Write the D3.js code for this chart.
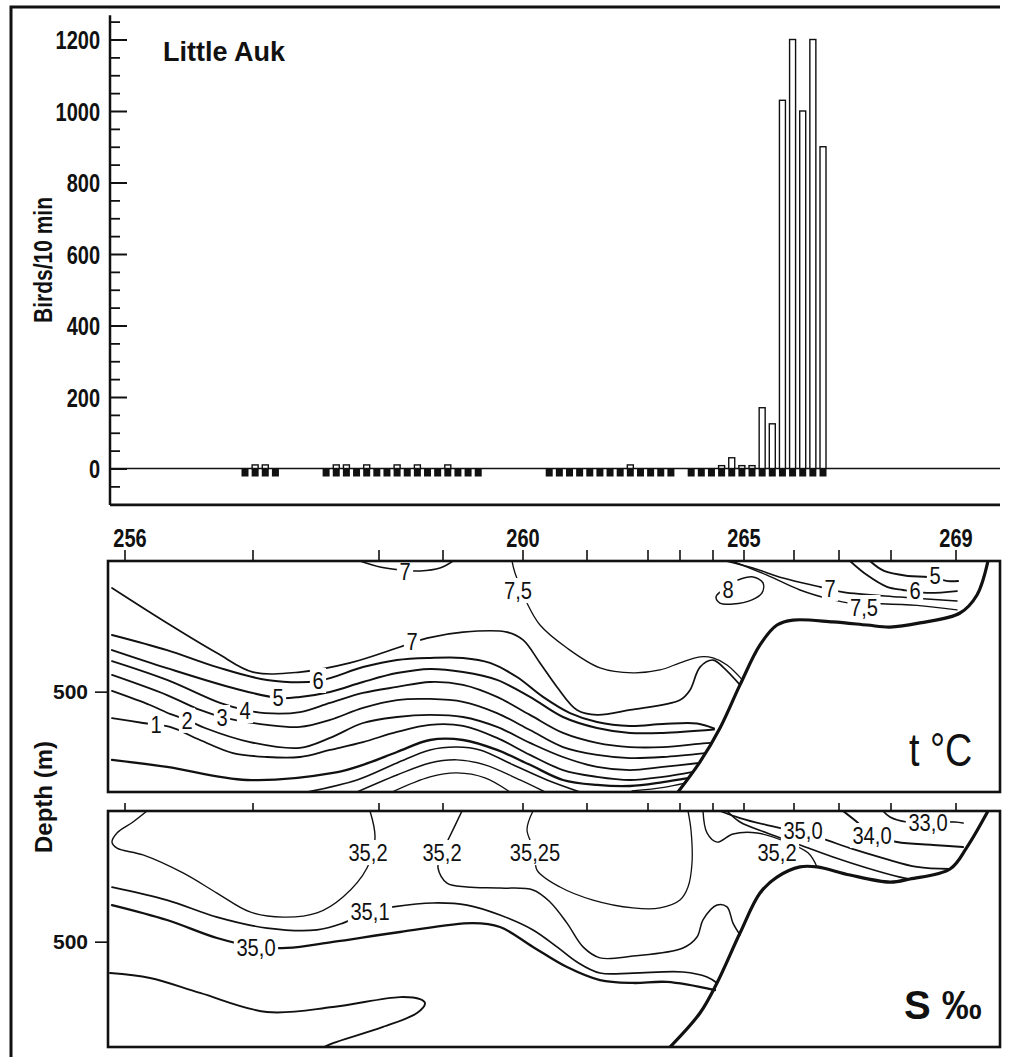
<!DOCTYPE html>
<html>
<head>
<meta charset="utf-8">
<script src="https://cdnjs.cloudflare.com/ajax/libs/d3/7.8.5/d3.min.js"></script>
<style>
  body { margin: 0; background: #fff; }
  .bold { font-family: "Liberation Sans", Arial, sans-serif; font-weight: bold; }
  .clab { font-family: "Liberation Sans", Arial, sans-serif; font-size: 24px; fill: #111; }
</style>
</head>
<body>
<svg id="fig" width="1013" height="1057"></svg>
<script>
// ---- bird counts (one slot = one 10-min count, gaps = no counting) ----
var countSlots = [0, 1, 2, 3,
                  8, 9, 10, 11, 12, 13, 14, 15, 16, 17, 18, 19, 20, 21, 22, 23,
                  30, 31, 32, 33, 34, 35, 36, 37, 38, 39, 40, 41, 42,
                  44, 45, 46, 47, 48, 49, 50, 51, 52, 53, 54, 55, 56, 57];
var birds = [0, 10, 10, 0,
             0, 10, 10, 0, 10, 0, 0, 10, 0, 10, 0, 0, 10, 0, 0, 0,
             0, 0, 0, 0, 0, 0, 0, 0, 10, 0, 0, 0, 0,
             0, 0, 0, 8, 30, 8, 8, 170, 125, 1030, 1200, 1000, 1200, 900];
var birdTicks = [0, 200, 400, 600, 800, 1000, 1200];

// ---- stations along the section (km) ----
var stations = [256, 257, 258, 259, 260, 261, 262, 263, 264, 265, 266, 267, 268, 269];
var stationKm = [8.5, 72.5, 135.5, 167.5, 207.5, 239.5, 270, 286, 302.5, 318, 343, 365.5, 391.5, 424];
var labelledStations = [256, 260, 265, 269];

// ---- temperature section: isotherms as [km, depth m] ----
var t7surf = [[126, 0], [136, 23], [146, 34], [156, 38], [166, 27], [172.5, 0]];
var t75 = [[202, 0], [203.5, 46], [209.5, 161], [216, 245], [229.5, 333], [246, 409], [262.5, 428], [276, 417],
           [286, 390], [296, 367], [302.5, 371], [309.5, 398], [317.2, 455]];
var t7 = [[2, 103], [29.5, 237], [54.5, 352], [72.5, 425], [96, 425], [121, 390], [146, 329], [159.5, 295], [177.5, 272],
          [199.5, 272], [207.5, 302], [216, 390], [224.5, 482], [234.5, 570], [244.5, 589], [261, 570], [286, 532],
          [291, 494], [296, 406], [302.5, 379], [307.5, 406], [316, 474]];
var t6 = [[2, 283], [29.5, 341], [54.5, 406], [79.5, 455], [105, 459], [127.5, 406], [144.5, 379], [161, 371], [177.5, 371],
          [191, 390], [204.5, 444], [217.5, 520], [231, 582], [244.5, 616], [261, 631], [277.5, 624], [294.5, 622], [303, 641]];
var t5 = [[2, 341], [29.5, 410], [62.5, 486], [85, 524], [96, 520], [111, 501], [127.5, 463], [144.5, 429], [161, 413],
          [177.5, 425], [194.5, 455], [211, 520], [227.5, 597], [244.5, 639], [261, 658], [277.5, 658], [303, 645]];
var t4 = [[2, 383], [29.5, 455], [56, 543], [68.5, 570], [78.5, 582], [96, 578], [111, 543], [127.5, 505], [144.5, 482],
          [161, 463], [177.5, 474], [194.5, 520], [211, 589], [227.5, 658], [244.5, 696], [261, 712], [277.5, 712],
          [297.5, 698], [301.6, 696]];
var t3 = [[2, 436], [29.5, 513], [46, 570], [57, 597], [79.5, 627], [96, 635], [111, 608], [127.5, 562], [144.5, 532],
          [161, 528], [177.5, 539], [194.5, 582], [211, 647], [227.5, 712], [244.5, 742], [261, 754], [277.5, 750], [298.5, 735]];
var t2 = [[2, 497], [21, 551], [31, 585], [39.5, 608], [48.5, 639], [71, 693], [96, 715], [111, 677], [127.5, 620],
          [144.5, 597], [161, 589], [177.5, 597], [194.5, 635], [211, 696], [227.5, 750], [244.5, 788], [261, 800],
          [277.5, 788], [295.5, 773]];
var t1 = [[2, 601], [17.5, 620], [31, 635], [46, 685], [62.5, 735], [79.5, 750], [96, 750], [111, 723], [127.5, 693],
          [144.5, 654], [161, 627], [177.5, 631], [194.5, 677], [211, 742], [227.5, 800], [244.5, 826], [261, 838],
          [277.5, 826], [292.5, 807]];
var t0 = [[2, 761], [29.5, 788], [69.5, 838], [112.5, 811], [127.5, 780], [144.5, 731], [161, 685], [177.5, 685],
          [194.5, 723], [211, 780], [227.5, 838], [244.5, 857], [261, 861], [277.5, 846], [290, 831]];
var tDome1 = [[99.5, 884], [124.5, 838], [144.5, 773], [161, 723], [174.5, 712], [186, 723], [202.5, 780], [219.5, 838], [236, 884]];
var tDome2 = [[124.5, 884], [144.5, 819], [161, 773], [174.5, 761], [188.5, 780], [206, 838], [218.5, 884]];
var tDome3 = [[142, 884], [161, 826], [174.5, 811], [188.5, 830], [201, 884]];
var tWedge = [[262, 880], [278, 866], [288.5, 850]];
var t8loop = [[315, 73], [322.5, 61], [327.5, 84], [327, 122], [322, 149], [312.5, 165], [306, 161], [304, 138], [306, 119]];
var t7top = [[309, 0], [322.5, 27], [337.5, 65], [356, 99], [367.5, 119], [396, 138], [424.5, 153]];
var t75top = [[312, 0], [329.5, 54], [346, 111], [362.5, 149], [371, 161], [384.5, 163], [404.5, 170], [424.5, 187]];
var t6top = [[371, 0], [379.5, 54], [389.5, 99], [397.5, 111], [409.5, 122], [424.5, 115]];
var t5top = [[381, 0], [388, 38], [400, 57], [410, 61], [420, 77], [425, 77]];
var tTopo = [[285, 884], [296, 769], [306, 639], [316, 474], [326, 321], [334.5, 245], [342.5, 226], [362.5, 233],
             [379.5, 245], [391, 253], [406, 237], [426, 199], [434.5, 130], [440, 0]];
var tLabels = [["7", 148.5, 38], ["7,5", 205, 111], ["7", 152, 306], ["6", 105, 455], ["5", 85, 520], ["4", 68.5, 570],
               ["3", 57, 597], ["2", 39.5, 608], ["1", 24, 624], ["8", 310, 107], ["7", 361, 103], ["7,5", 378, 176],
               ["6", 403.5, 111], ["5", 413.5, 54]];

// ---- salinity section: isohalines as [km, depth m] ----
var s352a = [[19.5, 0], [12.5, 42], [4.5, 84], [2, 119], [4.5, 142], [17.5, 168], [37.5, 237], [54.5, 314], [71, 386],
             [87.5, 406], [104.5, 390], [117.5, 329], [129.5, 218], [133.5, 103], [131, 0]];
var s352b = [[177, 0], [170, 111], [167, 157], [165, 218], [169.5, 276], [179.5, 291], [196, 295], [212.5, 302], [221, 348],
             [229.5, 429], [237.5, 520], [246, 562], [262.5, 555], [287.5, 524], [294.5, 482], [297.5, 417], [304.5, 360],
             [309.5, 367], [312.5, 429], [316, 474]];
var s3525 = [[212.5, 0], [209.5, 73], [213.5, 157], [214.5, 226], [226, 291], [242.5, 341], [262.5, 371], [276, 371],
             [286, 341], [290, 291], [292, 199], [291.5, 73], [290, 0]];
var s351 = [[2, 291], [29.5, 341], [54.5, 406], [79.5, 448], [104.5, 455], [117.5, 429], [131, 383], [142.5, 367],
            [162.5, 352], [179.5, 360], [196, 398], [212.5, 455], [224.5, 520], [234.5, 578], [246, 620], [262.5, 620],
            [287.5, 616], [299.5, 635], [304.5, 658]];
var s350 = [[2, 360], [29.5, 417], [54.5, 486], [74, 520], [89.5, 524], [112.5, 501], [146, 463], [182.5, 429], [196, 444],
            [212.5, 520], [229.5, 597], [246, 647], [262.5, 658], [279.5, 654], [303.5, 685]];
var sDeep = [[1, 620], [21, 639], [46, 696], [79.5, 769], [112.5, 750], [146, 712], [156, 720], [158.5, 735], [154.5, 773],
             [137.5, 826], [112.5, 888], [108, 903]];
var s352c = [[297.5, 0], [299.5, 84], [304.5, 119], [312.5, 88], [324.5, 84], [338, 115], [350, 160], [354.5, 214]];
var s350top = [[306, 0], [316, 27], [329.5, 54], [341, 73], [356, 103], [371, 142], [387.5, 180], [404.5, 214], [421, 222]];
var s35xtop = [[309.5, 0], [316, 42], [329.5, 84], [346, 130], [362.5, 176], [379.5, 218], [396, 253], [401, 260]];
var s340 = [[367.5, 0], [374.5, 42], [382, 90], [394.5, 119], [412.5, 130], [427.5, 138]];
var s330 = [[387.5, 0], [391, 23], [399.5, 42], [410, 42], [423.5, 42], [427.5, 46]];
var sTopo = [[281, 903], [296, 773], [304.5, 658], [316, 467], [326, 314], [334.5, 253], [346, 214], [354.5, 214],
             [371, 245], [391, 272], [401, 260], [421, 222], [429.5, 138], [440, 0]];
var sLabels = [["35,2", 130, 157], ["35,2", 167, 157], ["35,25", 213.5, 157], ["35,1", 131, 383], ["35,0", 74, 520],
               ["35,2", 334.5, 160], ["35,0", 347.5, 73], ["34,0", 382, 92], ["33,0", 410, 42]];

var tLines = [[t7surf, 1.6], [t75, 1.3], [t7, 1.7], [t6, 2], [t5, 2], [t4, 1.8], [t3, 1.8], [t2, 1.8], [t1, 1.8], [t0, 2.3],
              [tDome1, 1.6], [tDome2, 1.4], [tDome3, 1.3], [tWedge, 1.2], [t8loop, 1.5], [t7top, 1.6], [t75top, 1.4],
              [t6top, 1.8], [t5top, 2]];
var sLines = [[s352a, 1.4], [s352b, 1.5], [s3525, 1.3], [s351, 1.7], [s350, 2.3], [sDeep, 1.9], [s352c, 1.4],
              [s350top, 1.8], [s35xtop, 1.6], [s340, 2], [s330, 1.7]];

var svg = d3.select('#fig');
var ink = '#111';
var narrow = 0.8;   // horizontal squeeze for the condensed lettering

// outer frame (top and left)
svg.append('path').attr('d', 'M1000,7H11V1057').attr('fill', 'none').attr('stroke', ink).attr('stroke-width', 3);

// ================= bar chart =================
var yBirds = d3.scaleLinear().domain([0, 1200]).range([468.5, 39.5]);
var xSlot = d3.scaleLinear().domain([0, 57]).range([245, 823]);
var axisX = 110;

var gb = svg.append('g');
gb.append('line').attr('x1', axisX).attr('x2', axisX)
  .attr('y1', yBirds(1268)).attr('y2', yBirds(-102))
  .attr('stroke', ink).attr('stroke-width', 2.5);
gb.append('line').attr('x1', axisX).attr('x2', 1000)
  .attr('y1', yBirds(-102)).attr('y2', yBirds(-102))
  .attr('stroke', ink).attr('stroke-width', 2.8);

var major = gb.append('g').attr('transform', 'translate(' + axisX + ',0)')
  .call(d3.axisLeft(yBirds).tickValues(birdTicks).tickSize(-17).tickFormat(d3.format('d')));
major.select('.domain').remove();
major.selectAll('line').attr('stroke', ink).attr('stroke-width', 2);
major.selectAll('text').attr('class', 'bold').attr('font-size', 25).attr('fill', ink)
  .attr('x', -10 / narrow).attr('dy', '0.36em').attr('transform', 'scale(' + narrow + ',1)');

var minor = gb.append('g').attr('transform', 'translate(' + axisX + ',0)')
  .call(d3.axisLeft(yBirds).tickValues(d3.range(-50, 1251, 50).filter(function (v) { return v % 200 !== 0; }))
    .tickSize(-10).tickFormat(''));
minor.select('.domain').remove();
minor.selectAll('line').attr('stroke', ink).attr('stroke-width', 1.8);

// zero line
gb.append('line').attr('x1', axisX).attr('x2', 1000)
  .attr('y1', yBirds(0)).attr('y2', yBirds(0)).attr('stroke', ink).attr('stroke-width', 1.6);

// effort boxes (black) below the zero line
gb.selectAll('rect.effort').data(countSlots).enter().append('rect')
  .attr('class', 'effort')
  .attr('x', function (d) { return xSlot(d) - 3.5; })
  .attr('y', yBirds(0))
  .attr('width', 7).attr('height', 8)
  .attr('fill', ink);

// open bars with the counts
var counted = countSlots.map(function (s, i) { return { slot: s, n: birds[i] }; })
  .filter(function (d) { return d.n > 0; });
gb.selectAll('rect.count').data(counted).enter().append('rect')
  .attr('class', 'count')
  .attr('x', function (d) { return xSlot(d.slot) - 3; })
  .attr('y', function (d) { return yBirds(d.n); })
  .attr('width', 6)
  .attr('height', function (d) { return yBirds(0) - yBirds(d.n); })
  .attr('fill', '#fff').attr('stroke', ink).attr('stroke-width', 1.4);

gb.append('text').attr('class', 'bold').attr('x', 163).attr('y', 61)
  .attr('font-size', 27).attr('fill', ink).text('Little Auk');
gb.append('text').attr('class', 'bold')
  .attr('transform', 'translate(52,260) rotate(-90) scale(0.84,1)')
  .attr('text-anchor', 'middle').attr('font-size', 25).attr('fill', ink).text('Birds/10 min');

// ================= sections =================
var xKm = d3.scaleLinear().domain([0, 446]).range([108, 1000]);
var depthT = d3.scaleLinear().domain([0, 884]).range([561, 792]);
var depthS = d3.scaleLinear().domain([0, 903]).range([811, 1047]);

// station numbers above the temperature panel
var gst = svg.append('g');
gst.selectAll('text').data(labelledStations).enter().append('text')
  .attr('class', 'bold')
  .attr('transform', function (d) {
    var x = xKm(stationKm[stations.indexOf(d)]) + (d === 256 ? 5 : 0);
    return 'translate(' + x + ',547) scale(' + narrow + ',1)';
  })
  .attr('text-anchor', 'middle').attr('font-size', 25).attr('fill', ink)
  .text(function (d) { return d; });

function drawSection(id, depth, lines, labels, topo, tickLen) {
  var top = depth.range()[0], bot = depth.range()[1];
  var g = svg.append('g');
  svg.append('clipPath').attr('id', id)
    .append('rect').attr('x', xKm(0)).attr('y', top).attr('width', xKm(446) - xKm(0)).attr('height', bot - top);

  var line = d3.line()
    .x(function (d) { return xKm(d[0]); })
    .y(function (d) { return depth(d[1]); })
    .curve(d3.curveCatmullRom.alpha(0.5));

  var gc = g.append('g').attr('clip-path', 'url(#' + id + ')');
  gc.selectAll('path.iso').data(lines).enter().append('path')
    .attr('class', 'iso')
    .attr('d', function (d) { return line(d[0]); })
    .attr('fill', 'none').attr('stroke', ink)
    .attr('stroke-width', function (d) { return d[1]; })
    .attr('stroke-linecap', 'round');

  // labels sit in a white gap cut out of their line
  var lab = gc.selectAll('g.lab').data(labels).enter().append('g')
    .attr('class', 'lab')
    .attr('transform', function (d) {
      return 'translate(' + xKm(d[1]) + ',' + depth(d[2]) + ') scale(0.84,1)';
    });
  var bg = lab.append('rect').attr('fill', '#fff');
  var txt = lab.append('text')
    .attr('class', 'clab')
    .attr('dy', '0.36em').attr('text-anchor', 'middle')
    .text(function (d) { return d[0]; });
  txt.each(function () {
    var b = this.getBBox();
    d3.select(this.previousSibling)
      .attr('x', b.x - 3).attr('y', b.y + 1).attr('width', b.width + 6).attr('height', b.height - 2);
  });

  gc.append('path').attr('d', line(topo))
    .attr('fill', 'none').attr('stroke', ink).attr('stroke-width', 3.2).attr('stroke-linecap', 'round');

  // frame
  g.append('rect').attr('x', xKm(0)).attr('y', top).attr('width', xKm(446) - xKm(0)).attr('height', bot - top)
    .attr('fill', 'none').attr('stroke', ink).attr('stroke-width', 2.6);

  // station ticks on the top edge
  g.selectAll('line.st').data(stationKm).enter().append('line')
    .attr('class', 'st')
    .attr('x1', function (d) { return xKm(d); }).attr('x2', function (d) { return xKm(d); })
    .attr('y1', top).attr('y2', top - tickLen)
    .attr('stroke', ink).attr('stroke-width', 1.6);

  // depth axis
  var ax = g.append('g').attr('transform', 'translate(' + xKm(0) + ',0)')
    .call(d3.axisLeft(depth).tickValues([500]).tickSize(13).tickPadding(7));
  ax.select('.domain').remove();
  ax.selectAll('line').attr('stroke', ink).attr('stroke-width', 1.6);
  ax.selectAll('text').attr('class', 'bold').attr('font-size', 21).attr('fill', ink);
  return g;
}

drawSection('clipT', depthT, tLines, tLabels, tTopo, 11);
drawSection('clipS', depthS, sLines, sLabels, sTopo, 8);

svg.append('text').attr('transform', 'translate(909,766) scale(0.82,1)')
  .attr('font-family', '"Liberation Sans", Arial, sans-serif').attr('font-size', 46)
  .attr('fill', ink).text('t °C');
svg.append('text').attr('class', 'bold').attr('x', 904).attr('y', 1019)
  .attr('font-size', 40).attr('fill', ink).text('S ‰');

svg.append('text').attr('class', 'bold')
  .attr('transform', 'translate(52,797) rotate(-90)')
  .attr('text-anchor', 'middle').attr('font-size', 24).attr('fill', ink).text('Depth (m)');
</script>
</body>
</html>
